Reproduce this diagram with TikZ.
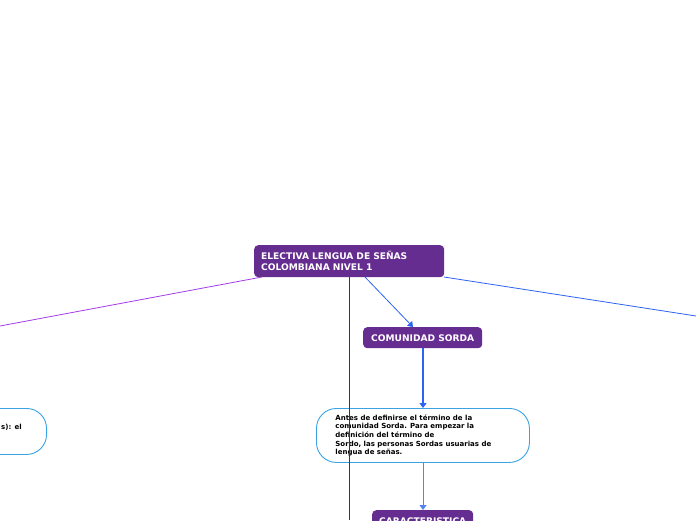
\documentclass[tikz,border=0pt]{standalone}
\usepackage{fontspec}
\setmainfont{DejaVu Sans}
\usetikzlibrary{arrows.meta}
\definecolor{mmpurple}{HTML}{662D91}
\definecolor{mmblue}{HTML}{2D62F5}
\definecolor{mmlight}{HTML}{3AA3E3}
\definecolor{mmviolet}{HTML}{A43BEA}
\definecolor{mmnavy}{HTML}{2B2F86}
\tikzset{
  topicbox/.style={fill=mmpurple, draw=none, rounded corners=4pt, text=white,
    font=\bfseries\fontsize{9.1}{11}\selectfont, inner sep=0pt},
  notebox/.style={draw=mmlight, line width=0.9pt, fill=white, rounded corners=20pt,
    font=\bfseries\fontsize{7}{8.7}\selectfont, align=left, inner sep=0pt},
  link/.style={line width=0.8pt},
  arrowlink/.style={line width=0.8pt, -{Triangle[width=7pt,length=5pt]}},
}
\begin{document}
\begin{tikzpicture}[x=1pt,y=-1pt]
\useasboundingbox (0,0) rectangle (696,520);
\clip (0,0) rectangle (696,520);
% root
\node[topicbox, minimum width=190pt, minimum height=32pt, text width=176pt, align=left, anchor=north west] (root) at (254,245)
  {ELECTIVA LENGUA DE SEÑAS\\COLOMBIANA NIVEL 1};
% off-canvas coordinates
\coordinate (leftend) at (0,326);
\coordinate (rightend) at (696,316);
\coordinate (downend) at (349,520);
\coordinate (rootL) at (262,277);
\coordinate (rootR) at (444,277);
\coordinate (rootV) at (349,277);
\coordinate (rootA) at (365,277);
% comunidad sorda
\node[topicbox, minimum width=119pt, minimum height=21pt, anchor=north west] (cs) at (363,327) {COMUNIDAD SORDA};
% note box
\node[notebox, minimum width=213pt, minimum height=54pt, anchor=north west] (note) at (316,408)
  {\begin{minipage}{175pt}Antes de definirse el término de la\\comunidad Sorda. Para empezar la\\definición del término de\\Sordo, las personas Sordas usuarias de\\lengua de señas.\end{minipage}};
% left note box (mostly off canvas)
\node[notebox, minimum width=120pt, minimum height=46pt, anchor=north east] (leftnote) at (47,408) {};
\node[font=\bfseries\fontsize{7}{8.7}\selectfont, anchor=base east, inner sep=0pt] (lefttext) at (22,429.5) {s): el};
% caracteristica
\node[topicbox, minimum width=101pt, minimum height=22pt, anchor=north west] (car) at (372,510) {CARACTERISTICA};
% connectors
\draw[link, mmviolet] (rootL) -- (leftend);
\draw[link, mmblue] (rootR) -- (rightend);
\draw[link, mmnavy] (rootV) -- (downend);
\draw[arrowlink, mmblue] (rootA) -- (cs.north -| 413,0);
\draw[arrowlink, mmblue, line width=1.2pt] (cs.south -| 423,0) -- (note.north -| 423,0);
\draw[arrowlink, mmblue!80] (note.south -| 423,0) -- (car.north -| 423,0);
\end{tikzpicture}
\end{document}
